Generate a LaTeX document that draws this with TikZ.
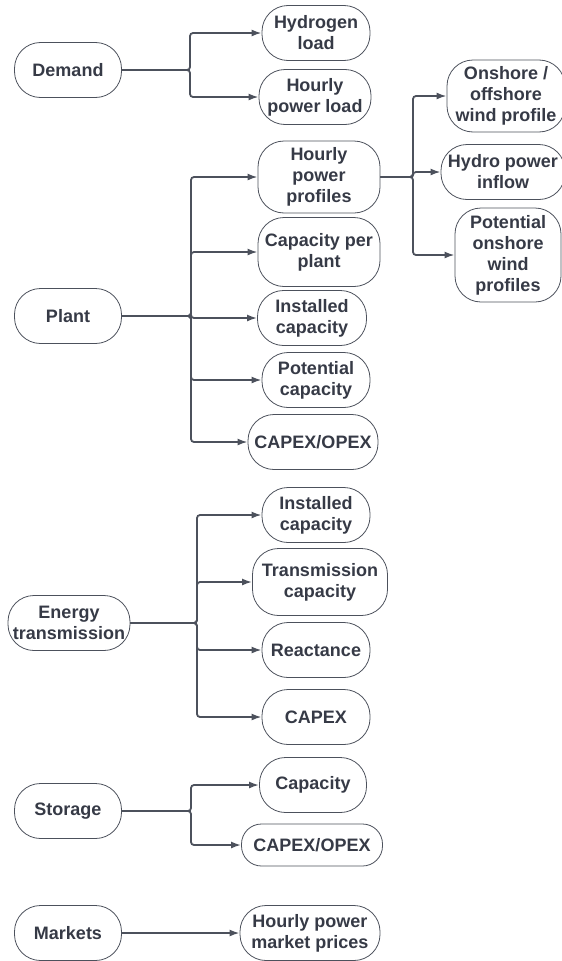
\documentclass[tikz,border=0pt]{standalone}
\usepackage{fontspec}
\setmainfont{Liberation Sans}
\usepackage{tikz}
\usetikzlibrary{
	arrows.meta,
	positioning,
	calc
}
\definecolor{inkgray}{HTML}{363A46}
\definecolor{wiregray}{HTML}{4C515C}

\begin{document}
\begin{tikzpicture}[
		x=1pt, y=1pt,
		pill/.style={draw=wiregray, line width=0.8pt, rounded corners=26pt, align=center, text=inkgray,
			font=\fontsize{18}{21}\selectfont\bfseries, inner sep=1pt, minimum height=55pt},
		arrow/.style={-{Latex[length=10pt,width=7pt]}, line width=1.8pt, draw=wiregray, rounded corners=3pt}
		]
		\useasboundingbox (0,0) rectangle (562,-961);
		
		% =========================
		% Demand
		% =========================
		\node[pill, minimum width=107pt] (demand) at (68,-70) {Demand};
		\node[pill, minimum width=108pt] (h2load) at (316,-33) {Hydrogen\\load};
		\node[pill, minimum width=112pt] (hourload) at (315,-97) {Hourly\\power load};
		
		% =========================
		% Plant
		% =========================
		\node[pill, minimum width=107pt] (plant) at (68,-316) {Plant};
		\node[pill, minimum width=122pt, minimum height=72pt] (profiles) at (319,-177) {Hourly\\power\\profiles};
		\node[pill, minimum width=122pt, minimum height=69pt] (capplant) at (319,-252) {Capacity per\\plant};
		\node[pill, minimum width=109pt] (instcap) at (312,-318) {Installed\\capacity};
		\node[pill, minimum width=108pt] (potcap) at (316,-380) {Potential\\capacity};
		\node[pill, minimum width=130pt] (plantcost) at (313,-442) {CAPEX/OPEX};
		
		% Profiles
		\node[pill, minimum width=118pt, minimum height=72pt] (wind) at (506,-96) {Onshore /\\offshore\\wind profile};
		\node[pill, minimum width=124pt] (hydro) at (503,-172) {Hydro power\\inflow};
		\node[pill, minimum width=106pt, minimum height=94pt] (potwind) at (508,-255) {Potential\\onshore\\wind\\profiles};
		
		% =========================
		% Energy transmission
		% =========================
		\node[pill, minimum width=122pt] (trans) at (69,-623) {Energy\\transmission};
		\node[pill, minimum width=108pt] (transinst) at (316,-515) {Installed\\capacity};
		\node[pill, minimum width=135pt, minimum height=67pt] (transcap) at (320,-582) {Transmission\\capacity};
		\node[pill, minimum width=108pt] (react) at (316,-650) {Reactance};
		\node[pill, minimum width=108pt] (transcost) at (316,-717) {CAPEX};
		
		% =========================
		% Storage
		% =========================
		\node[pill, minimum width=107pt] (storage) at (68,-811) {Storage};
		\node[pill, minimum width=107pt] (storcap) at (313,-785) {Capacity};
		\node[pill, minimum width=141pt, minimum height=42pt, rounded corners=20pt] (storcost) at (312,-845) {CAPEX/OPEX};
		
		% =========================
		% Markets
		% =========================
		\node[pill, minimum width=107pt] (markets) at (68,-933) {Markets};
		\node[pill, minimum width=140pt] (prices) at (310,-933) {Hourly power\\market prices};
		
		% =========================
		% Branch points
		% =========================
		\coordinate (dsplit) at (190,-70);
		\coordinate (psplit) at (191,-316);
		\coordinate (fsplit) at (413,-177);
		\coordinate (tsplit) at (197,-623);
		\coordinate (ssplit) at (191,-811);
		
		% =========================
		% Arrows
		% =========================
		\draw[arrow] (demand) -- (dsplit) |- (h2load);
		\draw[arrow] (demand) -- (dsplit) |- (hourload);
		
		\draw[arrow] (plant) -- (psplit) |- (profiles);
		\draw[arrow] (plant) -- (psplit) |- (capplant);
		\draw[arrow] (plant) -- (psplit) |- (instcap);
		\draw[arrow] (plant) -- (psplit) |- (potcap);
		\draw[arrow] (plant) -- (psplit) |- (plantcost);
		
		\draw[arrow] (profiles) -- (fsplit) |- (wind);
		\draw[arrow] (profiles) -- (fsplit) |- (hydro);
		\draw[arrow] (profiles) -- (fsplit) |- (potwind);
		
		\draw[arrow] (trans) -- (tsplit) |- (transinst);
		\draw[arrow] (trans) -- (tsplit) |- (transcap);
		\draw[arrow] (trans) -- (tsplit) |- (react);
		\draw[arrow] (trans) -- (tsplit) |- (transcost);
		
		\draw[arrow] (storage) -- (ssplit) |- (storcap);
		\draw[arrow] (storage) -- (ssplit) |- (storcost);
		
		\draw[arrow] (markets) -- (prices);
		
	\end{tikzpicture}
\end{document}
